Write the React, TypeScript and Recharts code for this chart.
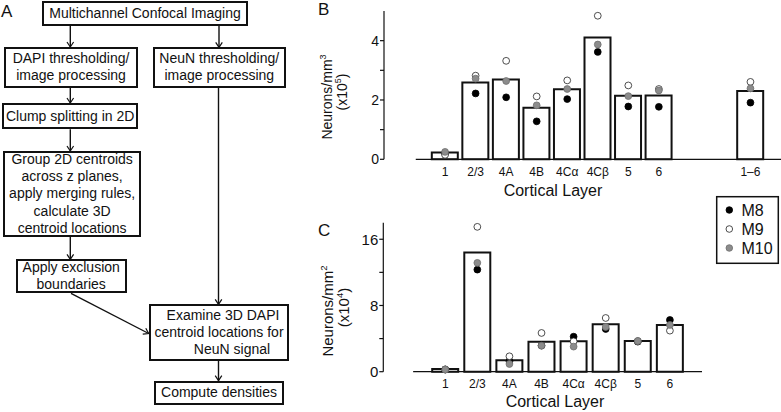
import React from 'react';
import { ComposedChart, Bar, Scatter, XAxis, YAxis, ReferenceLine } from 'recharts';

// panel B: density per volume (x10^5 / mm^3)
const LAYERS_B = ['1', '2/3', '4A', '4B', '4Cα', '4Cβ', '5', '6', '1–6'];
const SLOTS_B = [0, 1, 2, 3, 4, 5, 6, 7, 10];
const MEAN_B = [0.23, 2.59, 2.69, 1.74, 2.36, 4.11, 2.14, 2.15, 2.3];
const M8_B = [0.2, 2.22, 2.09, 1.28, 2.03, 3.62, 1.78, 1.77, 1.91];
const M9_B = [0.15, 2.82, 3.32, 2.12, 2.66, 4.84, 2.49, 2.37, 2.61];
const M10_B = [0.25, 2.72, 2.64, 1.82, 2.37, 3.87, 2.13, 2.32, 2.39];
const YTICKS_B = [0, 1, 2, 3, 4];

// panel C: density per area (x10^4 / mm^2)
const LAYERS_C = ['1', '2/3', '4A', '4B', '4Cα', '4Cβ', '5', '6'];
const SLOTS_C = [0, 1, 2, 3, 4, 5, 6, 7];
const MEAN_C = [0.33, 14.4, 1.37, 3.63, 3.67, 5.73, 3.71, 5.65];
const M8_C = [0.28, 12.33, 1.26, 3.15, 4.23, 5.16, 3.63, 6.25];
const M9_C = [0.25, 17.5, 1.86, 4.68, 3.67, 6.49, 3.7, 4.96];
const M10_C = [0.27, 13.15, 0.93, 3.15, 3.03, 5.4, 3.71, 5.65];
const YTICKS_C = [0, 4, 8, 12, 16];

const MONKEYS = ['M8', 'M9', 'M10'];

const FONT = '"Liberation Sans", Arial, Helvetica, sans-serif';
const INK = '#111';
const DOT_STYLE = [
  { fill: '#000', stroke: '#000' },
  { fill: '#fff', stroke: '#222' },
  { fill: '#8c8c8c', stroke: '#6e6e6e' },
];

function dotShape(i: number) {
  return (p: any) => (
    <circle cx={p.cx} cy={p.cy} r={3.4} fill={DOT_STYLE[i].fill} stroke={DOT_STYLE[i].stroke} strokeWidth={0.8} />
  );
}

function DensityPanel(props: any) {
  const { top, height, margin, xDomain, axisFrom, axisTo, slots, labels, mean, series, yDomain, yTicks, yLabelEvery, yFont } = props;
  const bars = slots.map((x: number, i: number) => ({ x, value: mean[i] }));
  return (
    <div style={{ position: 'absolute', left: 0, top, width: 781, height }}>
      <ComposedChart width={781} height={height} data={bars} margin={margin}>
        <XAxis
          dataKey="x" type="number" domain={xDomain} allowDataOverflow ticks={slots} interval={0}
          tickFormatter={(v: number) => labels[slots.indexOf(v)] ?? ''}
          axisLine={false} tickLine={false} height={30}
          tick={{ fill: INK, fontSize: 12, fontFamily: FONT }}
        />
        <YAxis
          type="number" domain={yDomain} ticks={yTicks} interval={0} width={50}
          tickFormatter={(v: number) => (v % yLabelEvery === 0 ? String(v) : '')}
          tickSize={4} tickMargin={1}
          axisLine={{ stroke: INK, strokeWidth: 1.2 }} tickLine={{ stroke: INK, strokeWidth: 1.2 }}
          tick={{ fill: INK, fontSize: yFont, fontFamily: FONT }}
        />
        <ReferenceLine segment={[{ x: axisFrom, y: 0 }, { x: axisTo, y: 0 }]} stroke={INK} strokeWidth={1.2} />
        <Bar dataKey="value" barSize={26} fill="#fff" stroke={INK} strokeWidth={2} isAnimationActive={false} />
        {series.map((vals: number[], i: number) => (
          <Scatter
            key={MONKEYS[i]}
            name={MONKEYS[i]}
            dataKey="y"
            data={slots.map((x: number, j: number) => ({ x, y: vals[j] }))}
            shape={dotShape(i)}
            isAnimationActive={false}
          />
        ))}
      </ComposedChart>
    </div>
  );
}

const BOXES = [
  { x1: 42, y1: 1, x2: 248, y2: 26, lines: ['Multichannel Confocal Imaging'] },
  { x1: 4, y1: 47, x2: 138, y2: 87.5, lines: ['DAPI thresholding/', 'image processing'] },
  { x1: 152.5, y1: 47.3, x2: 286, y2: 87.7, lines: ['NeuN thresholding/', 'image processing'] },
  { x1: 2, y1: 103, x2: 138.3, y2: 129.3, lines: ['Clump splitting in 2D'] },
  { x1: 3.3, y1: 151, x2: 141, y2: 236.7, lines: ['Group 2D centroids', 'across z planes,', 'apply merging rules,', 'calculate 3D', 'centroid locations'] },
  { x1: 15.7, y1: 259.3, x2: 126.7, y2: 293.3, lines: ['Apply exclusion', 'boundaries'] },
  { x1: 148.7, y1: 304.3, x2: 289.3, y2: 361, lines: ['Examine 3D DAPI', 'centroid locations for', 'NeuN signal'], pads: [8, 0, 26] },
  { x1: 154, y1: 380.7, x2: 284, y2: 405.3, lines: ['Compute densities'] },
];

const ARROWS = [
  [70.3, 26, 70.3, 47],
  [219, 26, 219, 47.3],
  [70.3, 87.5, 70.3, 103],
  [70.3, 129.3, 70.3, 151],
  [70.3, 236.7, 70.3, 259.3],
  [71, 293.3, 148.7, 333.5],
  [218.5, 87.7, 218.5, 304.3],
  [218.5, 361, 218.5, 380.7],
];

function Arrow({ a }: { a: number[] }) {
  const [x1, y1, x2, y2] = a;
  const ang = (Math.atan2(y2 - y1, x2 - x1) * 180) / Math.PI;
  return (
    <g>
      <line x1={x1} y1={y1} x2={x2} y2={y2} stroke={INK} strokeWidth={1.4} />
      <path d="M -5 -3.3 L 0 0 L -5 3.3" fill="none" stroke={INK} strokeWidth={1.2}
        transform={`translate(${x2},${y2}) rotate(${ang})`} />
    </g>
  );
}

function Flowchart() {
  return (
    <>
      <svg width={300} height={412} style={{ position: 'absolute', left: 0, top: 0 }}>
        {ARROWS.map((a, i) => <Arrow key={i} a={a} />)}
        <text x={1} y={17} fontSize={17} fontFamily={FONT} fill={INK}>A</text>
      </svg>
      {BOXES.map((b, i) => (
        <div key={i} style={{
          position: 'absolute', left: b.x1, top: b.y1, width: b.x2 - b.x1, height: b.y2 - b.y1,
          boxSizing: 'border-box', border: `2px solid ${INK}`, background: '#fff',
          display: 'flex', flexDirection: 'column', justifyContent: 'center', alignItems: 'center',
          fontFamily: FONT, fontSize: 14, lineHeight: '17.3px', color: INK, whiteSpace: 'nowrap', textAlign: 'center',
        }}>
          {b.lines.map((l, j) => (
            <div key={j} style={{ paddingLeft: b.pads ? b.pads[j] : 0 }}>{l}</div>
          ))}
        </div>
      ))}
    </>
  );
}

function Annotations() {
  const legendY = [210, 229, 248];
  return (
    <svg width={781} height={412} style={{ position: 'absolute', left: 0, top: 0, pointerEvents: 'none' }} fontFamily={FONT} fill={INK}>
      <text x={318} y={15} fontSize={17}>B</text>
      <text x={318} y={236} fontSize={17}>C</text>

      <text transform="translate(331.5,97) rotate(-90)" textAnchor="middle" fontSize={14}>
        Neurons/mm<tspan dy={-6} fontSize={9}>3</tspan>
      </text>
      <text transform="translate(347,92) rotate(-90)" textAnchor="middle" fontSize={14}>
        (x10<tspan dy={-6} fontSize={9}>5</tspan><tspan dy={6}>)</tspan>
      </text>
      <text transform="translate(333,311) rotate(-90)" textAnchor="middle" fontSize={15}>
        Neurons/mm<tspan dy={-6} fontSize={9.5}>2</tspan>
      </text>
      <text transform="translate(348.5,307.5) rotate(-90)" textAnchor="middle" fontSize={15}>
        (x10<tspan dy={-6} fontSize={9.5}>4</tspan><tspan dy={6}>)</tspan>
      </text>

      <text x={553} y={195.5} textAnchor="middle" fontSize={16}>Cortical Layer</text>
      <text x={555} y={407} textAnchor="middle" fontSize={16}>Cortical Layer</text>

      <rect x={716.7} y={196.7} width={61.6} height={66.6} fill="#fff" stroke={INK} strokeWidth={1.5} />
      {MONKEYS.map((m, i) => (
        <g key={m}>
          <circle cx={729.3} cy={legendY[i]} r={3.3} fill={DOT_STYLE[i].fill} stroke={DOT_STYLE[i].stroke} strokeWidth={0.8} />
          <text x={741.5} y={legendY[i] + 5.6} fontSize={16}>{m}</text>
        </g>
      ))}
    </svg>
  );
}

export default function App() {
  return (
    <div style={{ position: 'fixed', left: 0, top: 0, width: 781, height: 412, background: '#fff', overflow: 'hidden' }}>
      <Flowchart />
      <DensityPanel
        top={0} height={200}
        margin={{ top: 11, right: 0, bottom: 10.7, left: 334 }}
        xDomain={[-2, 11]} axisFrom={-0.96} axisTo={11}
        slots={SLOTS_B} labels={LAYERS_B} mean={MEAN_B} series={[M8_B, M9_B, M10_B]}
        yDomain={[0, 5]} yTicks={YTICKS_B} yLabelEvery={2} yFont={14}
      />
      <DensityPanel
        top={200} height={212}
        margin={{ top: 22.7, right: 79, bottom: 10.3, left: 333.3 }}
        xDomain={[-1.93, 8]} axisFrom={-1} axisTo={8}
        slots={SLOTS_C} labels={LAYERS_C} mean={MEAN_C} series={[M8_C, M9_C, M10_C]}
        yDomain={[0, 18]} yTicks={YTICKS_C} yLabelEvery={8} yFont={15}
      />
      <Annotations />
    </div>
  );
}
